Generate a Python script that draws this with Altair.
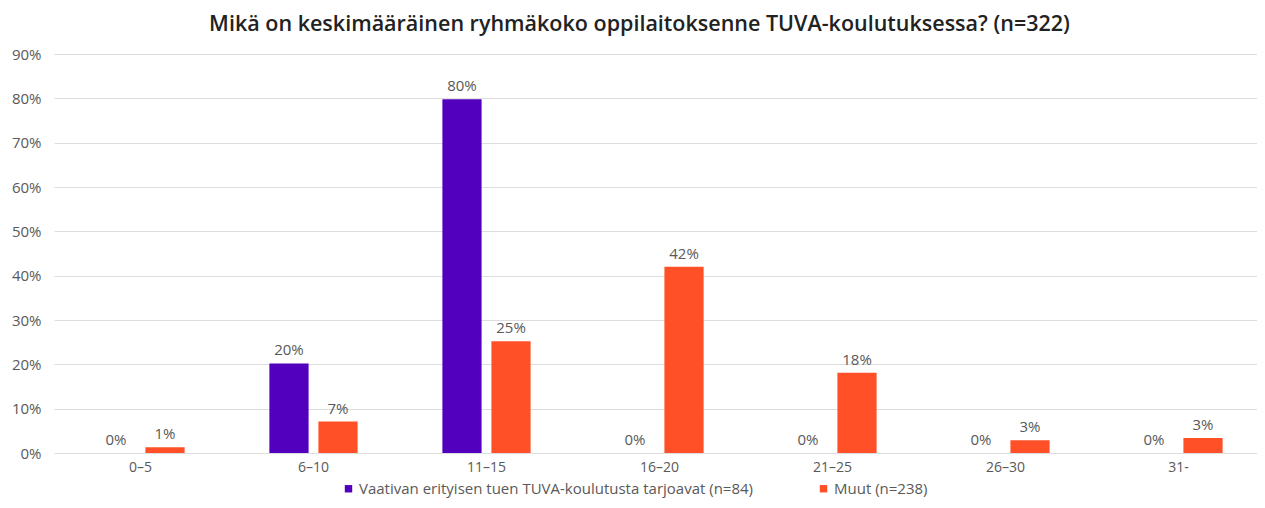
import altair as alt
import pandas as pd

categories = ["0–5", "6–10", "11–15", "16–20", "21–25", "26–30", "31-"]
series = ["Vaativan erityisen tuen TUVA-koulutusta tarjoavat (n=84)", "Muut (n=238)"]
vaativa = [0, 20.2, 79.8, 0, 0, 0, 0]
muut = [1.3, 7.1, 25.2, 42.0, 18.1, 2.9, 3.4]
colors = ["#5200BE", "#FF5028"]

rows = []
for i, c in enumerate(categories):
    rows.append({"cat": c, "series": series[0], "v": vaativa[i]})
    rows.append({"cat": c, "series": series[1], "v": muut[i]})
df = pd.DataFrame(rows)

FONT = "Open Sans"
GREY = "#595959"

base = alt.Chart(df).encode(
    x=alt.X("cat:N", sort=categories, title=None,
            scale=alt.Scale(paddingInner=0.49, paddingOuter=0.245, range=[10, 1221]),
            axis=alt.Axis(labelAngle=0, ticks=False, domain=False, labelColor=GREY,
                          labelFontSize=14, labelFont=FONT, labelPadding=7)),
    xOffset=alt.XOffset("series:N", sort=series, scale=alt.Scale(paddingInner=0.2)),
)

bars = base.mark_bar().encode(
    y=alt.Y("v:Q", title=None,
            scale=alt.Scale(domain=[0, 90], nice=False),
            axis=alt.Axis(values=list(range(0, 91, 10)), labelExpr="datum.value + '%'",
                          ticks=False, domain=False, gridColor="#DDDDDD", labelColor=GREY,
                          labelFontSize=15, labelFont=FONT, labelPadding=3)),
    color=alt.Color("series:N", sort=series,
                    scale=alt.Scale(domain=series, range=colors),
                    legend=alt.Legend(title=None, orient="none", legendX=297, legendY=427,
                                      direction="horizontal", padding=0,
                                      symbolType="square", symbolSize=55, labelFontSize=15,
                                      labelFont=FONT, labelColor=GREY, columnPadding=62,
                                      labelOffset=3,
                                      labelLimit=600, symbolStrokeWidth=0)),
)

labels = base.mark_text(dy=-13, fontSize=15, font=FONT, color=GREY).transform_calculate(
    label="format(datum.v, '.0f') + '%'"
).encode(
    y=alt.Y("v:Q"),
    text=alt.Text("label:N"),
)

chart = alt.layer(bars, labels).properties(
    width=1211, height=399,
    autosize=alt.AutoSizeParams(type="none"),
    title=alt.TitleParams("Mikä on keskimääräinen ryhmäkoko oppilaitoksenne TUVA-koulutuksessa? (n=322)",
                          fontSize=21.5, font=FONT, fontWeight=600, color="#222222", offset=12,
                          dx=-10),
    padding={"left": 36, "right": 2, "top": 46, "bottom": 47},
).configure_view(stroke=None)

chart.save("out.html", embed_options={"renderer": "svg", "actions": False})
